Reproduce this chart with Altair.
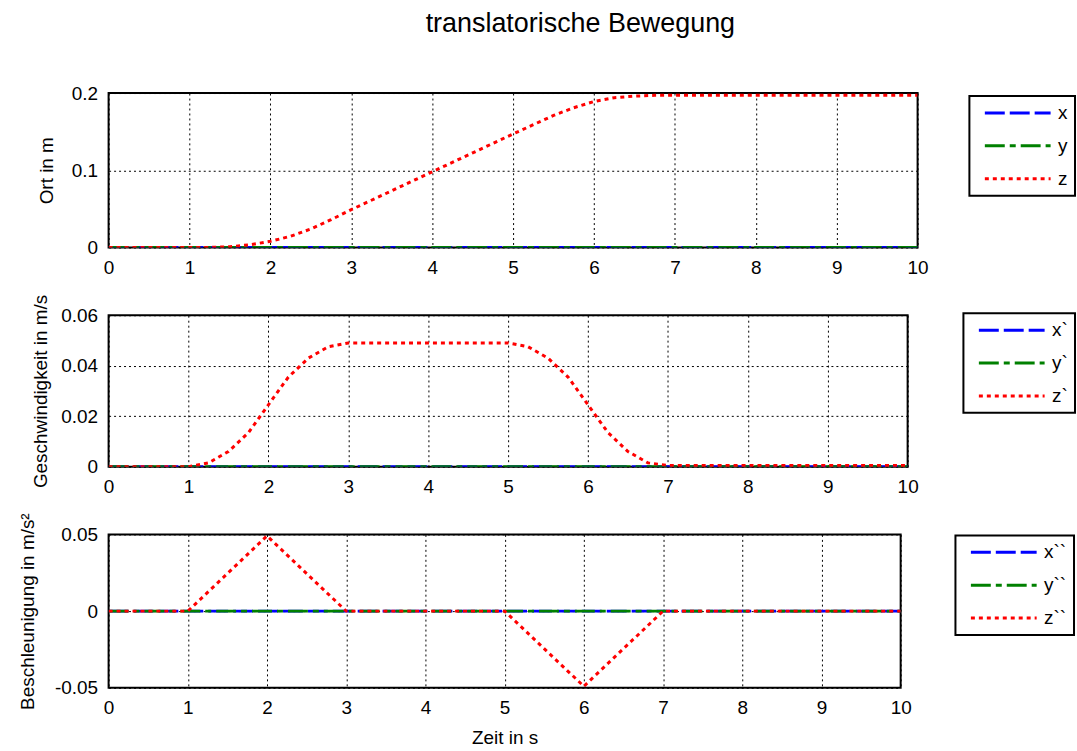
import altair as alt
import pandas as pd

FONT = "Liberation Sans Narrow, Liberation Sans, Arial, sans-serif"

COLORS = ["#0000ff", "#008000", "#ff0000"]
DASHES = [[20, 5], [20, 5, 6, 5], [4, 4]]

# --- position (Ort) ---
t_pos = [0, 0.5, 1, 1.25, 1.5, 1.75, 2, 2.25, 2.5, 2.75, 3, 3.5, 4, 4.5, 5,
         5.25, 5.5, 5.75, 6, 6.25, 6.5, 6.75, 7, 8, 9, 10]
z_pos = [0, 0, 0, 0.0001, 0.001, 0.0035, 0.008, 0.0145, 0.024, 0.036, 0.049,
         0.0735, 0.098, 0.1225, 0.147, 0.159, 0.171, 0.181, 0.189, 0.194,
         0.196, 0.197, 0.197, 0.197, 0.197, 0.197]
x_pos = [0] * len(t_pos)
y_pos = [0] * len(t_pos)

# --- velocity (Geschwindigkeit) ---
t_vel = [0, 0.5, 1, 1.25, 1.5, 1.75, 2, 2.25, 2.5, 2.75, 3, 4, 5,
         5.25, 5.5, 5.75, 6, 6.25, 6.5, 6.75, 7, 8, 9, 10]
z_vel = [0, 0, 0, 0.0015, 0.006, 0.0135, 0.0245, 0.0355, 0.043, 0.0475, 0.049,
         0.049, 0.049, 0.0475, 0.043, 0.0355, 0.0245, 0.0135, 0.006, 0.0015,
         0.0005, 0.0005, 0.0005, 0.0005]
x_vel = [0] * len(t_vel)
y_vel = [0] * len(t_vel)

# --- acceleration (Beschleunigung) ---
t_acc = [0, 1, 2, 3, 4, 5, 6, 7, 8, 9, 10]
z_acc = [0, 0, 0.049, 0, 0, 0, -0.049, 0, 0, 0, 0]
x_acc = [0] * len(t_acc)
y_acc = [0] * len(t_acc)

x_ticks = list(range(11))


def panel(t, xs, ys, zs, names, ytitle, ydomain, yticks, width, height,
          legend_x, legend_y, title_x, xtitle=None):
    n = len(t)
    df = pd.DataFrame({
        "t": t * 3,
        "v": xs + ys + zs,
        "s": [names[0]] * n + [names[1]] * n + [names[2]] * n,
    })
    legend = alt.Legend(
        orient="none", legendX=legend_x, legendY=legend_y, title=None,
        symbolType="stroke", symbolSize=66 * 66, symbolStrokeWidth=3,
        symbolOffset=7, clipHeight=20, rowPadding=13,
        strokeColor="black", fillColor="white", padding=7,
        labelFont=FONT, labelFontSize=19, labelColor="black", labelOffset=6,
    )
    if xtitle:
        x_axis = alt.Axis(values=x_ticks, format="d", labelFlush=False,
                          title=xtitle, titlePadding=11)
    else:
        x_axis = alt.Axis(values=x_ticks, format="d", labelFlush=False, title=None)
    y_axis = alt.Axis(values=yticks, title=ytitle, titleX=title_x,
                      titleAngle=270, titleBaseline="bottom",
                      labelExpr="replace(format(datum.value, '.2~f'), '\u2212', '-')")
    return alt.Chart(df).mark_line(strokeWidth=3, clip=True).encode(
        x=alt.X("t:Q", scale=alt.Scale(domain=[0, 10], nice=False), axis=x_axis),
        y=alt.Y("v:Q", scale=alt.Scale(domain=ydomain, nice=False, zero=False), axis=y_axis),
        color=alt.Color("s:N", scale=alt.Scale(domain=names, range=COLORS), legend=legend),
        strokeDash=alt.StrokeDash("s:N", scale=alt.Scale(domain=names, range=DASHES), legend=legend),
    ).properties(width=width, height=height)


p1 = panel(t_pos, x_pos, y_pos, z_pos, ["x", "y", "z"], "Ort in m",
           [0, 0.2], [0, 0.1, 0.2], 812, 155, 864, 3, -52)
p2 = panel(t_vel, x_vel, y_vel, z_vel, ["x`", "y`", "z`"], "Geschwindigkeit in m/s",
           [0, 0.06], [0, 0.02, 0.04, 0.06], 802, 152, 858, -2, -58)
p3 = panel(t_acc, x_acc, y_acc, z_acc, ["x``", "y``", "z``"], "Beschleunigung in m/s²",
           [-0.05, 0.05], [-0.05, 0, 0.05], 795, 154, 850, 1, -71, xtitle="Zeit in s")

chart = alt.vconcat(p1, p2, p3, spacing=68, bounds="flush").resolve_scale(
    color="independent", strokeDash="independent", x="independent", y="independent"
).properties(
    title=alt.TitleParams("translatorische Bewegung", font=FONT, fontSize=27,
                          fontWeight="normal", color="black", anchor="middle",
                          offset=45, dx=33),
    padding={"left": 18, "top": 9, "right": 0, "bottom": 0},
).configure_view(
    stroke="black", strokeWidth=2
).configure_legend(
    strokeWidth=2
).configure_axis(
    grid=True, gridColor="black", gridDash=[2, 3], gridOpacity=1, gridWidth=1,
    domain=False, ticks=False,
    labelFont=FONT, labelFontSize=19, labelColor="black", labelPadding=11,
    titleFont=FONT, titleFontSize=19, titleFontWeight="normal", titleColor="black",
)

chart.save("out.html", embed_options={"renderer": "svg", "actions": False})
